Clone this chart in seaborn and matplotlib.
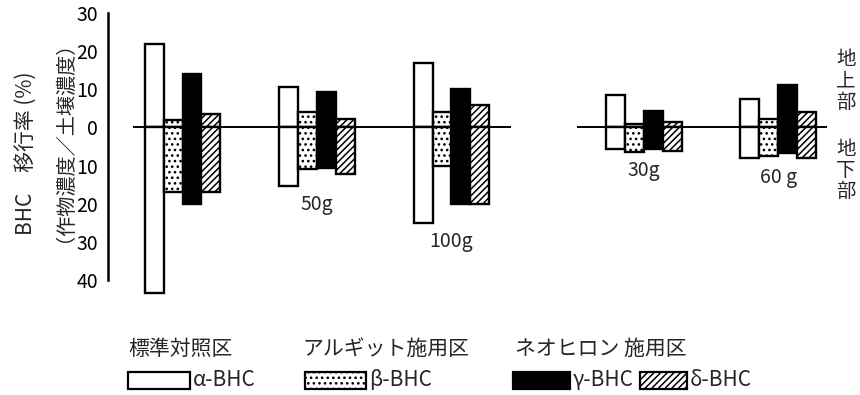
import matplotlib
matplotlib.use("Agg")
import matplotlib.pyplot as plt
from matplotlib.patches import Rectangle
import pandas as pd
import seaborn as sns

# --- data -------------------------------------------------------------
group_labels = ["", "50g", "100g", "30g", "60 g"]
isomers = ["α-BHC", "β-BHC", "γ-BHC", "δ-BHC"]

# BHC transfer rate (%) into the above-ground parts (地上部)
above_alpha = [22.0, 10.5, 16.8, 8.5, 7.5]
above_beta = [2.0, 4.0, 4.0, 0.8, 2.1]
above_gamma = [14.0, 9.2, 10.0, 4.4, 11.0]
above_delta = [3.4, 2.3, 5.9, 1.4, 4.1]

# BHC transfer rate (%) into the below-ground parts (地下部)
below_alpha = [43.5, 15.3, 25.0, 5.7, 7.9]
below_beta = [17.0, 11.0, 10.0, 6.4, 7.5]
below_gamma = [20.0, 10.7, 20.0, 5.7, 6.6]
below_delta = [17.0, 12.2, 20.0, 6.1, 8.1]

treatments = ["標準対照区", "アルギット施用区", "ネオヒロン 施用区"]

# --- layout -----------------------------------------------------------
W, H, DPI = 860, 395, 100
group_pos = [0.0, 1.0, 2.0, 3.43, 4.43]   # gap before the ネオヒロン groups

sns.set_style("white")
plt.rcParams["font.family"] = ["Noto Sans CJK JP", "DejaVu Sans"]
plt.rcParams["hatch.linewidth"] = 1.1

fig = plt.figure(figsize=(W / DPI, H / DPI), dpi=DPI)
ax = fig.add_axes([108 / W, (H - 280) / H, (830 - 108) / W, (280 - 13) / H])

above = [above_alpha, above_beta, above_gamma, above_delta]
below = [below_alpha, below_beta, below_gamma, below_delta]
rows = []
for iso, up, down in zip(isomers, above, below):
    for p, u, d in zip(group_pos, up, down):
        rows.append({"pos": p, "isomer": iso, "above": u, "below": -d})
df = pd.DataFrame(rows)

faces = {"α-BHC": "white", "β-BHC": "white", "γ-BHC": "black", "δ-BHC": "white"}
hatches = {"α-BHC": "", "β-BHC": "...", "γ-BHC": "", "δ-BHC": "/////"}

for col in ["above", "below"]:
    sns.barplot(data=df, x="pos", y=col, hue="isomer", hue_order=isomers,
                native_scale=True, width=0.565, dodge=True, palette=faces,
                edgecolor="black", linewidth=1.7, errorbar=None,
                legend=False, ax=ax)

for container, iso in zip(ax.containers, isomers * 2):
    for bar in container:
        bar.set_hatch(hatches[iso])
        bar.set_edgecolor("black")
        bar.set_clip_on(False)

# zero lines for the two parts of the chart
ax.hlines(0, group_pos[0] - 0.37, group_pos[2] + 0.44, color="black", lw=1.4, zorder=5)
ax.hlines(0, group_pos[3] - 0.5, group_pos[4] + 0.36, color="black", lw=1.4, zorder=5)

# amount labels under each group
for p, lab, *ds in zip(group_pos, group_labels, *below):
    if lab:
        ax.text(p, -(max(ds) + 5.0), lab, ha="center", va="center", fontsize=14)

ax.set_xlim((108 - 182.5) / 134.5, (830 - 182.5) / 134.5)
ax.set_ylim(-40, 30)
ticks = [30, 20, 10, 0, -10, -20, -30, -40]
ax.set_yticks(ticks)
ax.set_yticklabels([str(abs(t)) for t in ticks], fontsize=14)
ax.set_xticks([])
ax.set_xlabel("")
ax.set_ylabel("")
for s in ["top", "right", "bottom"]:
    ax.spines[s].set_visible(False)
ax.spines["left"].set_linewidth(1.8)
ax.spines["left"].set_color("black")
ax.tick_params(axis="y", direction="in", length=8, width=1.8, pad=7, colors="black")


def fx(x):
    return x / W


def fy(y):
    return 1 - y / H


# axis title
fig.text(fx(27), fy(153), "BHC　移行率 (%)", rotation=90, ha="center", va="center", fontsize=15)
fig.text(fx(55), fy(131), "（作物濃度／土壌濃度）", rotation=90, ha="center", va="center", fontsize=14.5)

# part labels on the right
fig.text(fx(846), fy(81), "地\n上\n部", ha="center", va="center", fontsize=14, linespacing=1.0)
fig.text(fx(846), fy(170), "地\n下\n部", ha="center", va="center", fontsize=14, linespacing=1.0)

# legend
for x, t in zip([128, 302, 515], treatments):
    fig.text(fx(x), fy(349), t, ha="left", va="center", fontsize=15)

boxes = [(128, 190), (305, 366), (513, 570), (640, 687)]
for (x0, x1), iso in zip(boxes, isomers):
    fig.patches.append(Rectangle((fx(x0), fy(389)), fx(x1 - x0), (389 - 372) / H,
                                 transform=fig.transFigure, facecolor=faces[iso],
                                 edgecolor="black", linewidth=1.6, hatch=hatches[iso]))
    fig.text(fx(x1 + 3), fy(380), iso, ha="left", va="center", fontsize=15)

fig.savefig("out.png", dpi=DPI)
